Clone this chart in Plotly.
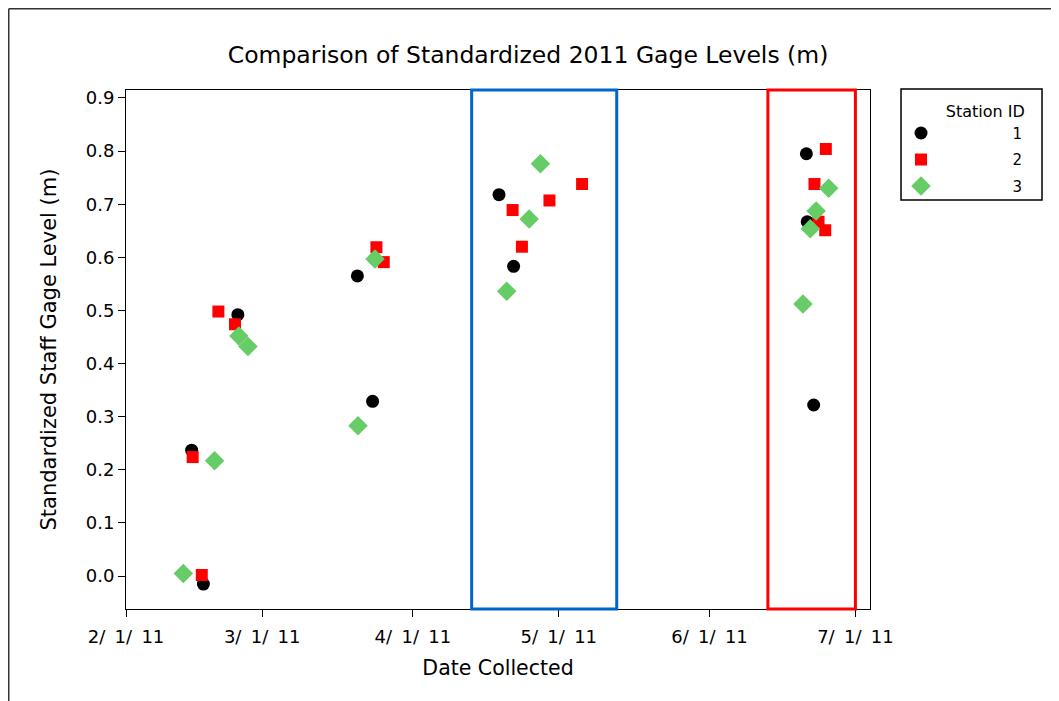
"""
Comparison of standardized 2011 gage levels by station.
"""
import plotly.graph_objects as go

# Station 1 (black circles)
s1_dates = ['2011-02-14 12:00', '2011-02-16 22:00', '2011-02-24 00:00', '2011-03-20 14:00',
            '2011-03-23 17:00', '2011-04-18 17:00', '2011-04-21 17:00', '2011-06-20 22:00',
            '2011-06-21 02:00', '2011-06-22 10:00']
s1_levels = [0.237, -0.015, 0.492, 0.565, 0.329, 0.718, 0.583, 0.795, 0.667, 0.322]

# Station 2 (red squares)
s2_dates = ['2011-02-14 17:00', '2011-02-16 14:00', '2011-02-20 00:00', '2011-02-23 10:00',
            '2011-03-24 12:00', '2011-03-26 00:00', '2011-04-21 12:00', '2011-04-23 10:00',
            '2011-04-29 02:00', '2011-05-05 19:00', '2011-06-22 14:00', '2011-06-23 10:00',
            '2011-06-24 19:00', '2011-06-24 22:00']
s2_levels = [0.224, 0.002, 0.498, 0.474, 0.619, 0.591, 0.689, 0.620, 0.707, 0.738,
             0.738, 0.667, 0.651, 0.804]

# Station 3 (green diamonds)
s3_dates = ['2011-02-12 19:00', '2011-02-19 05:00', '2011-02-24 05:00', '2011-02-26 02:00',
            '2011-03-20 17:00', '2011-03-24 05:00', '2011-04-20 07:00', '2011-04-24 22:00',
            '2011-04-27 05:00', '2011-06-20 05:00', '2011-06-21 17:00', '2011-06-22 22:00',
            '2011-06-25 12:00']
s3_levels = [0.005, 0.217, 0.452, 0.432, 0.283, 0.597, 0.536, 0.672, 0.776, 0.512,
             0.654, 0.687, 0.730]

# x-axis ticks
tick_dates = ['2011-02-01', '2011-03-01', '2011-04-01', '2011-05-01', '2011-06-01', '2011-07-01']
tick_labels = ['2/\u2009 1/\u2009 11', '3/\u2009 1/\u2009 11', '4/\u2009 1/\u2009 11',
               '5/\u2009 1/\u2009 11', '6/\u2009 1/\u2009 11', '7/\u2009 1/\u2009 11']

# highlighted windows
blue_window = ['2011-04-13 02:00', '2011-05-12 22:00']
red_window = ['2011-06-13 00:00', '2011-07-01 00:00']

FONT = 'DejaVu Sans, Arial, sans-serif'
lead = '\u00a0' * 15
tail = '\u00a0' * 3

fig = go.Figure()

series = [
    ('1', s1_dates, s1_levels, 'circle', 'black', 13),
    ('2', s2_dates, s2_levels, 'square', '#FF0000', 12),
    ('3', s3_dates, s3_levels, 'diamond', '#66CC66', 15),
]
for name, dates, levels, symbol, color, size in series:
    fig.add_trace(go.Scatter(
        x=dates,
        y=levels,
        mode='markers',
        name=lead + name + tail,
        legendgroup=name,
        marker=dict(symbol=symbol, color=color, size=size, line=dict(width=0)),
    ))

# highlight boxes
fig.add_shape(type='rect', xref='x', yref='y domain',
              x0=blue_window[0], x1=blue_window[1], y0=0, y1=1,
              line=dict(color='#0066CC', width=3))
fig.add_shape(type='rect', xref='x', yref='y domain',
              x0=red_window[0], x1=red_window[1], y0=0, y1=1,
              line=dict(color='#FF0000', width=3))

# legend frame
fig.add_shape(type='rect', xref='paper', yref='paper',
              x0=1.0417, x1=1.2312, y0=0.788, y1=1.0019,
              line=dict(color='black', width=1.5))

# outer frame lines (top and left)
fig.add_shape(type='line', xref='paper', yref='paper',
              x0=-0.1576, x1=1.3, y0=1.1565, y1=1.1565,
              line=dict(color='#333333', width=1.5))
fig.add_shape(type='line', xref='paper', yref='paper',
              x0=-0.1576, x1=-0.1576, y0=-0.2, y1=1.1565,
              line=dict(color='#333333', width=1.5))

fig.update_layout(
    width=1051,
    height=693,
    margin=dict(l=118, r=189, t=82, b=92),
    paper_bgcolor='white',
    plot_bgcolor='white',
    font=dict(family=FONT, color='black'),
    title=dict(
        text='Comparison of Standardized 2011 Gage Levels (m)',
        x=0.4948, xanchor='center', y=0.932, yanchor='middle',
        font=dict(size=23.5, family=FONT),
    ),
    showlegend=True,
    legend=dict(
        title=dict(text='Station ID' + '\u00a0' * 3, side='top right', font=dict(size=16)),
        x=1.0417, y=0.9885, xanchor='left', yanchor='top',
        borderwidth=0, bgcolor='rgba(0,0,0,0)',
        font=dict(size=15),
        tracegroupgap=4,
        traceorder='grouped',
    ),
    xaxis=dict(
        range=['2011-02-01', '2011-07-04'],
        tickmode='array', tickvals=tick_dates, ticktext=tick_labels,
        ticks='outside', ticklen=7, tickcolor='black',
        showline=True, linecolor='black', linewidth=1, mirror=True,
        showgrid=False, zeroline=False,
        tickfont=dict(size=18),
        ticklabelstandoff=4,
        title=dict(text='Date Collected', font=dict(size=20.5), standoff=15),
    ),
    yaxis=dict(
        range=[-0.062, 0.915],
        tick0=0, dtick=0.1, tickformat='.1f',
        ticks='outside', ticklen=7, tickcolor='black',
        showline=True, linecolor='black', linewidth=1, mirror=True,
        showgrid=False, zeroline=False,
        tickfont=dict(size=18),
        title=dict(text='Standardized Staff Gage Level (m)', font=dict(size=21), standoff=23),
    ),
)

fig.write_html('out.html')
